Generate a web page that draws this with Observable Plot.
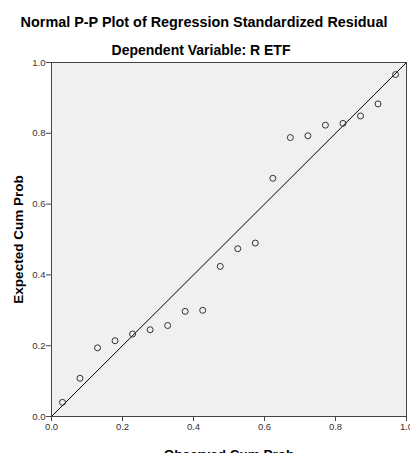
<!DOCTYPE html>
<html>
<head>
<meta charset="utf-8">
<script src="https://cdn.jsdelivr.net/npm/d3@7"></script>
<script src="https://cdn.jsdelivr.net/npm/@observablehq/plot@0.6"></script>
<style>
  html, body { margin: 0; padding: 0; background: #fff; overflow: hidden; }
  #wrap { width: 410px; height: 453px; position: relative; font-family: "Liberation Sans", Arial, sans-serif; }
  #head { position: relative; height: 56px; }
  .t { position: absolute; left: 0; width: 410px; text-align: center; font-weight: bold; font-size: 14px; line-height: 16px; color: #000; white-space: nowrap; }
  #title { top: 14.2px; left: -1px; font-size: 14.4px; }
  #subtitle { top: 42px; left: -4px; }
</style>
</head>
<body>
<div id="wrap">
  <div id="head">
    <div class="t" id="title">Normal P-P Plot of Regression Standardized Residual</div>
    <div class="t" id="subtitle">Dependent Variable: R ETF</div>
  </div>
  <div id="chart"></div>
</div>
<script>
// Observed cumulative probabilities (Blom plotting positions, n = 20)
const observed = [0.0309, 0.0802, 0.1296, 0.1790, 0.2284, 0.2778, 0.3272, 0.3765, 0.4259, 0.4753,
                  0.5247, 0.5741, 0.6235, 0.6728, 0.7222, 0.7716, 0.8210, 0.8704, 0.9198, 0.9691];
// Expected cumulative probabilities
const expected = [0.040, 0.108, 0.194, 0.214, 0.233, 0.245, 0.257, 0.297, 0.300, 0.424,
                  0.474, 0.490, 0.673, 0.788, 0.793, 0.823, 0.828, 0.849, 0.883, 0.966];
const tickValues = [0, 0.2, 0.4, 0.6, 0.8, 1.0];
const refLine = [0, 1];

const points = observed.map((o, i) => ({observed: o, expected: expected[i]}));

const chart = Plot.plot({
  width: 410,
  height: 397,
  marginTop: 6,
  marginBottom: 37,
  marginLeft: 51,
  marginRight: 4,
  style: { fontFamily: "Liberation Sans, Arial, sans-serif", fontSize: "9.5px", color: "#333", background: "transparent", overflow: "visible" },
  x: { domain: [0, 1] },
  y: { domain: [0, 1] },
  marks: [
    Plot.frame({ fill: "#f0f0f0", stroke: null }),
    Plot.link([refLine], { x1: d => d[0], y1: d => d[0], x2: d => d[1], y2: d => d[1], stroke: "#000", strokeWidth: 1 }),
    Plot.dot(points, { x: "observed", y: "expected", r: 3, stroke: "#333", strokeWidth: 1, fill: "none" }),
    Plot.frame({ stroke: "#444", strokeWidth: 1 }),
    Plot.axisX({ ticks: tickValues, tickFormat: d3.format(".1f"), tickSize: 5, tickPadding: 2, stroke: "#444", fill: "#333",
      label: "Observed Cum Prob", labelAnchor: "center", labelArrow: "none", labelOffset: 42 }),
    Plot.axisY({ ticks: tickValues, tickFormat: d3.format(".1f"), tickSize: 5, tickPadding: 1, stroke: "#444", fill: "#333",
      label: "Expected Cum Prob", labelAnchor: "center", labelArrow: "none", labelOffset: 38 })
  ]
});
// style axis labels bold
chart.querySelectorAll("g[aria-label='x-axis label'] text, g[aria-label='y-axis label'] text").forEach(t => {
  t.setAttribute("font-weight", "bold");
  t.setAttribute("font-size", "13.5px");
  t.setAttribute("fill", "#000");
});
document.getElementById("chart").appendChild(chart);
</script>
</body>
</html>
